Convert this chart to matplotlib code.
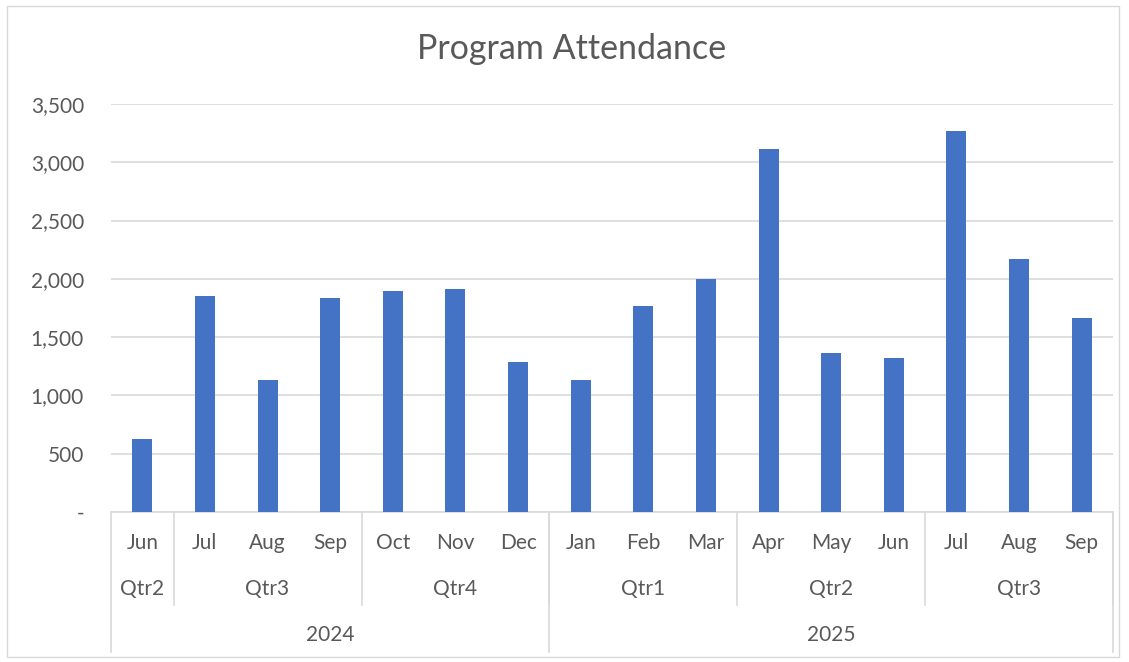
import matplotlib.pyplot as plt
from matplotlib.patches import Rectangle
import matplotlib.transforms as mtransforms

plt.rcParams['font.family'] = ['Lato', 'DejaVu Sans']

months = ["Jun", "Jul", "Aug", "Sep", "Oct", "Nov", "Dec",
          "Jan", "Feb", "Mar", "Apr", "May", "Jun", "Jul", "Aug", "Sep"]
quarters = ["Qtr2", "Qtr3", "Qtr3", "Qtr3", "Qtr4", "Qtr4", "Qtr4",
            "Qtr1", "Qtr1", "Qtr1", "Qtr2", "Qtr2", "Qtr2", "Qtr3", "Qtr3", "Qtr3"]
years = ["2024"] * 7 + ["2025"] * 9
attendance = [627, 1857, 1136, 1835, 1892, 1909, 1288,
              1133, 1766, 1995, 3117, 1368, 1325, 3271, 2172, 1663]
yticks = [0, 500, 1000, 1500, 2000, 2500, 3000, 3500]

bar_col = "#4472C4"
txt_col = "#595959"
grid_col = "#D9D9D9"

W, H = 1129, 662
fig = plt.figure(figsize=(W / 100, H / 100), dpi=100)
fig.patches.append(Rectangle((7 / W, 5 / H), 1112 / W, 651 / H, transform=fig.transFigure,
                             fill=False, edgecolor=grid_col, lw=1))

x0, x1, ytop, ybot = 111, 1113, 104, 512
ax = fig.add_axes([x0 / W, (H - ybot) / H, (x1 - x0) / W, (ybot - ytop) / H])

xs = list(range(len(months)))
ax.bar(xs, attendance, width=0.32, color=bar_col, zorder=3)
ax.set_xlim(-0.5, len(months) - 0.5)
ax.set_ylim(0, 3500)
ax.set_yticks(yticks)
ax.set_yticklabels(["-" if v == 0 else f"{v:,}" for v in yticks])
ax.tick_params(axis='y', length=0, pad=19.5, labelsize=15, labelcolor=txt_col)
ax.tick_params(axis='x', bottom=False, labelbottom=False)
ax.yaxis.grid(True, color=grid_col, lw=1.2, zorder=0)
for s in ["top", "right", "left"]:
    ax.spines[s].set_visible(False)
ax.spines["bottom"].set_color(grid_col)
ax.spines["bottom"].set_linewidth(1.2)

fig.text(572 / W, (H - 59) / H, "Program Attendance", ha='center', va='baseline',
         fontsize=24.5, color=txt_col)

tr = mtransforms.blended_transform_factory(ax.transData, ax.transAxes)
h_ax = ybot - ytop
y_month = -(543 - ybot) / h_ax
y_qtr = -(589 - ybot) / h_ax
y_year = -(635 - ybot) / h_ax
y_qline = -(605 - ybot) / h_ax
y_yline = -(652 - ybot) / h_ax

for i, m in enumerate(months):
    ax.text(i, y_month, m, transform=tr, ha='center', va='center', fontsize=15, color=txt_col)


def groups(labels):
    out = []
    start = 0
    for i in range(1, len(labels) + 1):
        if i == len(labels) or labels[i] != labels[start] or (labels is quarters and years[i] != years[start]):
            out.append((start, i - 1, labels[start]))
            start = i
    return out


for a, b, lab in groups(quarters):
    ax.text((a + b) / 2, y_qtr, lab, transform=tr, ha='center', va='center', fontsize=15, color=txt_col)
    ax.plot([b + 0.5, b + 0.5], [0, y_qline], transform=tr, color=grid_col, lw=1.2, clip_on=False)

for a, b, lab in groups(years):
    ax.text((a + b) / 2, y_year, lab, transform=tr, ha='center', va='center', fontsize=15, color=txt_col)
    ax.plot([b + 0.5, b + 0.5], [0, y_yline], transform=tr, color=grid_col, lw=1.2, clip_on=False)
ax.plot([-0.5, -0.5], [0, y_yline], transform=tr, color=grid_col, lw=1.2, clip_on=False)

fig.savefig("out.png", dpi=100)
